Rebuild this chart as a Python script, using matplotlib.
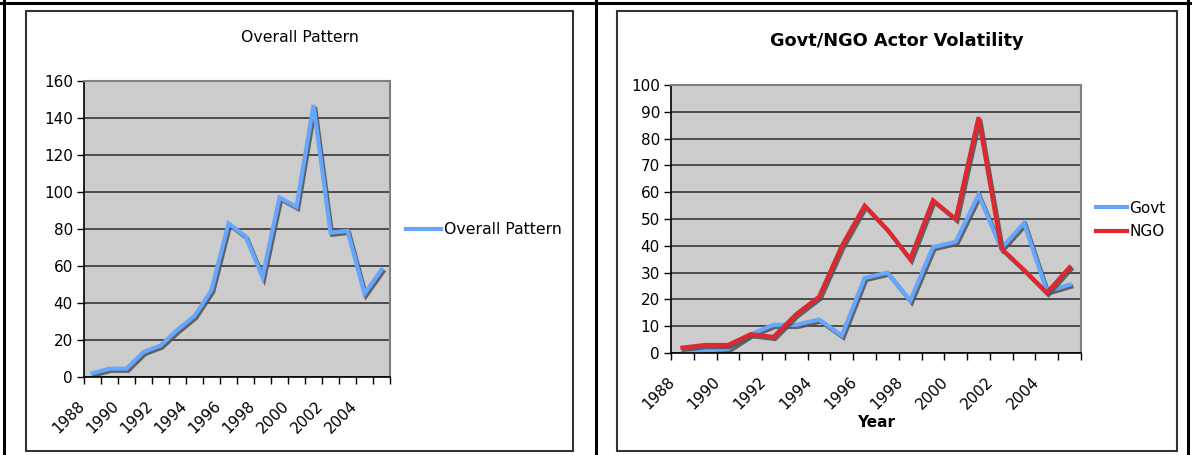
import numpy as np
import matplotlib.pyplot as plt
import matplotlib.patheffects as pe
from matplotlib.patches import Rectangle
from matplotlib.lines import Line2D
import matplotlib.transforms as mtrans

## data
years = list(range(1988, 2006))
overall = [2, 4.5, 4.5, 13.5, 17, 25.5, 33, 47, 83, 76, 54, 97, 92, 147, 78, 79, 45, 58]
govt = [0, 1, 1.5, 7, 10.5, 10.5, 12.5, 6.5, 28, 30, 19.5, 39.5, 41.5, 59, 39, 48.5, 23, 25.5]
ngo = [2, 3, 3, 7, 6, 14.5, 21, 40, 55, 46, 35, 57, 50, 88, 39, 31, 22.5, 32]

BLUE = '#66A6FF'
RED = '#E0262E'
W, H = 1192, 455

plt.rcParams['font.family'] = ['DejaVu Sans']

fig = plt.figure(figsize=(W / 100, H / 100), dpi=100)


def fx(px):
    return px / W


def fy(py):
    return 1 - py / H


## outer table lines and chart frames
for xs, ys in [([4, 4], [0, 455]), ([596, 596], [0, 455]), ([1188, 1188], [0, 455]),
               ([0, 1192], [2.5, 2.5])]:
    fig.add_artist(Line2D([fx(x) for x in xs], [fy(y) for y in ys], color='black', lw=2.2))
for x0, x1 in [(26, 573), (617, 1177)]:
    fig.add_artist(Rectangle((fx(x0), fy(451)), fx(x1 - x0), (451 - 11) / H,
                             fill=False, edgecolor='#333333', lw=1.5))

shadow = [pe.SimpleLineShadow(offset=(1.2, -1.5), shadow_color='#555555', alpha=0.9), pe.Normal()]


def style_axes(ax, ymax, step):
    n = len(years)
    ax.set_facecolor('#CCCCCC')
    ax.set_xlim(-0.5, n - 0.5)
    ax.set_ylim(0, ymax)
    ax.set_yticks(np.arange(0, ymax + 1, step))
    ax.yaxis.grid(True, color='#2a2a2a', lw=1.1)
    ax.set_axisbelow(True)
    ax.set_xticks(np.arange(-0.5, n, 1))
    ax.set_xticklabels([])
    ax.set_xticks(np.arange(0, n, 2), minor=True)
    ax.set_xticklabels([str(y) for y in years[::2]], minor=True, rotation=45,
                       ha='right', va='center', rotation_mode='anchor', fontsize=11)
    ax.tick_params(axis='x', which='minor', length=0, pad=19)
    ax.tick_params(axis='x', which='major', length=5, width=1, direction='out')
    ax.tick_params(axis='y', length=5, width=1, direction='out', labelsize=11, pad=3)
    off = mtrans.ScaledTranslation(-10 / 100, 0, fig.dpi_scale_trans)
    for lab in ax.get_xticklabels(minor=True):
        lab.set_transform(lab.get_transform() + off)
    for s in ['top', 'right']:
        ax.spines[s].set_color('#808080')
        ax.spines[s].set_linewidth(1.5)
    for s in ['left', 'bottom']:
        ax.spines[s].set_color('black')
        ax.spines[s].set_linewidth(1.2)


def plain_handles(lines):
    return [Line2D([], [], color=l.get_color(), lw=l.get_linewidth()) for l in lines]


## left chart
ax1 = fig.add_axes([fx(84), fy(377), fx(390 - 84), (377 - 81) / H])
style_axes(ax1, 160, 20)
l1, = ax1.plot(range(len(years)), overall, color=BLUE, lw=3, label='Overall Pattern',
               path_effects=shadow, solid_joinstyle='miter')
ax1.set_title('Overall Pattern', fontsize=11.3, x=(300 - 84) / 306, y=(377 - 38) / 296,
              va='center', pad=0)
ax1.legend(plain_handles([l1]), ['Overall Pattern'], loc='center left',
           bbox_to_anchor=(fx(406), fy(230)), bbox_transform=fig.transFigure,
           frameon=False, fontsize=11.3, handlelength=2.2, handletextpad=0.2,
           borderpad=0, borderaxespad=0)

## right chart
ax2 = fig.add_axes([fx(671), fy(353), fx(1081 - 671), (353 - 85) / H])
style_axes(ax2, 100, 10)
l2, = ax2.plot(range(len(years)), govt, color=BLUE, lw=3, label='Govt',
               path_effects=shadow, solid_joinstyle='miter')
l3, = ax2.plot(range(len(years)), ngo, color=RED, lw=3, label='NGO',
               path_effects=shadow, solid_joinstyle='miter')
ax2.set_title('Govt/NGO Actor Volatility', fontsize=12.8, fontweight='bold',
              x=(897 - 671) / 410, y=(353 - 41) / 268, va='center', pad=0)
ax2.set_xlabel('Year', fontsize=11, fontweight='bold')
ax2.xaxis.set_label_coords(0.5, (353 - 415) / 268)
ax2.legend(plain_handles([l2, l3]), ['Govt', 'NGO'], loc='center left',
           bbox_to_anchor=(fx(1096), fy(220)), bbox_transform=fig.transFigure,
           frameon=False, fontsize=11, handlelength=2.0, handletextpad=0.2,
           borderpad=0, borderaxespad=0, labelspacing=0.55)

fig.savefig('out.png', dpi=100)
